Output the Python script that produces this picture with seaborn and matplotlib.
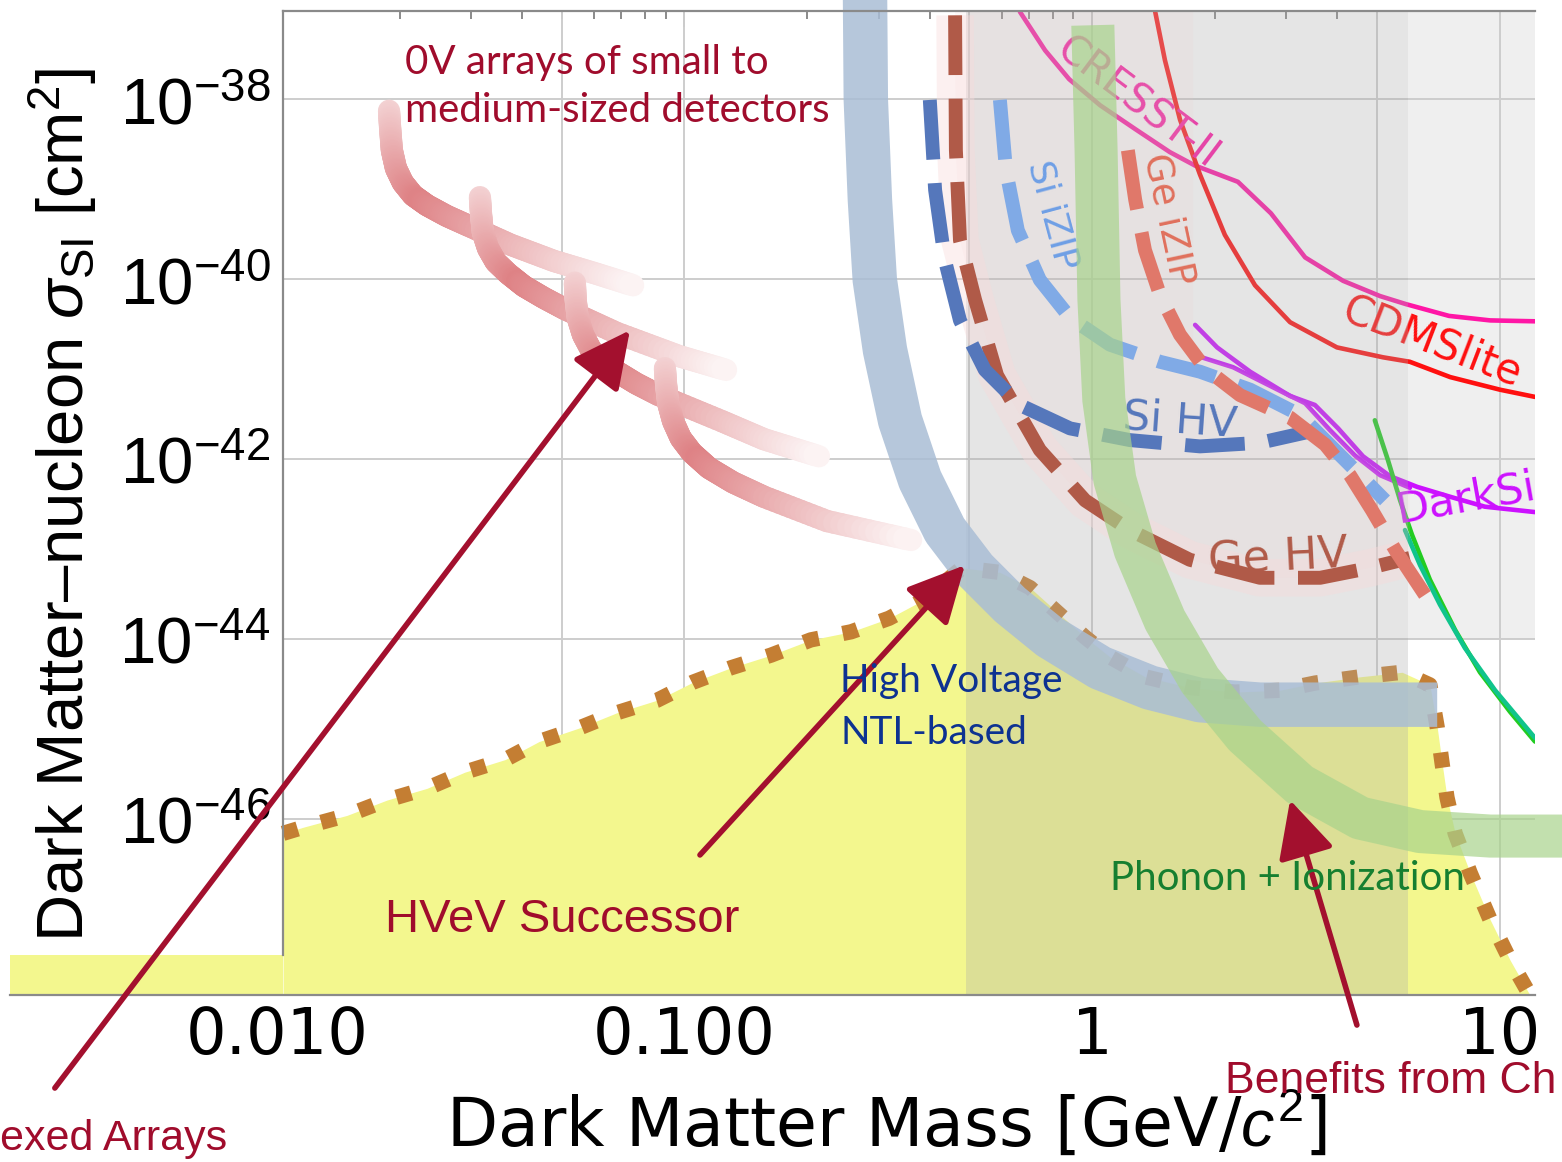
import numpy as np
import matplotlib
matplotlib.use("Agg")
import matplotlib.pyplot as plt
import seaborn as sns
from matplotlib.collections import LineCollection
from matplotlib.colors import to_rgb
from matplotlib.ticker import FixedLocator, LogLocator, NullFormatter, NullLocator

# values, stored as log10(mass / GeV) and log10(sigma / cm^2)

# HVeV successor reach (edge of the yellow region)
hvev_m = [-1.985, -1.934, -1.828, -1.730, -1.632, -1.539, -1.440, -1.357, -1.259, -1.166,
          -1.067, -0.979, -0.886, -0.788, -0.690, -0.591, -0.498, -0.415, -0.319, -0.226,
          -0.152, -0.086, -0.017, 0.044, 0.130, 0.240, 0.351, 0.461, 0.547, 0.658,
          0.761, 0.829, 0.847, 0.859, 0.871, 0.891, 0.928, 0.977, 1.026, 1.075]
hvev_s = [-46.16, -46.09, -45.96, -45.79, -45.66, -45.48, -45.34, -45.14, -44.99, -44.82,
          -44.68, -44.48, -44.32, -44.18, -44.01, -43.92, -43.77, -43.57, -43.21, -43.26,
          -43.43, -43.70, -43.98, -44.20, -44.42, -44.54, -44.59, -44.57, -44.49, -44.42,
          -44.37, -44.51, -44.98, -45.38, -45.76, -46.16, -46.60, -47.12, -47.57, -47.96]

# high voltage NTL-based band
ntl_m = [-0.557, -0.555, -0.545, -0.533, -0.508, -0.471, -0.422, -0.361, -0.287,
         -0.201, -0.103, 0.020, 0.142, 0.265, 0.412, 0.584, 0.847]
ntl_s = [-36.84, -38.01, -39.12, -40.01, -40.79, -41.57, -42.23, -42.79, -43.23,
         -43.62, -43.98, -44.32, -44.54, -44.68, -44.73, -44.73, -44.73]

# phonon + ionization band
phion_m = [0.002, 0.010, 0.017, 0.029, 0.056, 0.106, 0.179, 0.265, 0.375, 0.510,
           0.658, 0.805, 0.977, 1.161]
phion_s = [-37.18, -38.57, -40.23, -41.34, -42.23, -43.01, -43.79, -44.46, -45.07,
           -45.62, -45.99, -46.14, -46.19, -46.19]

# 0V arrays of small to medium-sized detectors
zerov_m = [[-1.725, -1.722, -1.718, -1.708, -1.691, -1.666, -1.632, -1.583, -1.529, -1.426,
            -1.320, -1.217, -1.126],
           [-1.502, -1.499, -1.495, -1.482, -1.463, -1.433, -1.394, -1.345, -1.291, -1.166,
            -1.011, -0.898],
           [-1.269, -1.267, -1.262, -1.249, -1.229, -1.202, -1.166, -1.119, -1.063, -0.908,
            -0.805, -0.670],
           [-1.048, -1.045, -1.040, -1.028, -1.009, -0.982, -0.940, -0.881, -0.805, -0.650,
            -0.444]]
zerov_s = [[-38.13, -38.34, -38.57, -38.77, -38.93, -39.07, -39.18, -39.30, -39.41, -39.62,
            -39.80, -39.94, -40.07],
           [-39.09, -39.29, -39.48, -39.66, -39.81, -39.94, -40.08, -40.21, -40.34, -40.60,
            -40.86, -41.01],
           [-40.04, -40.23, -40.43, -40.62, -40.79, -40.92, -41.03, -41.16, -41.29, -41.58,
            -41.78, -41.97],
           [-40.99, -41.18, -41.38, -41.58, -41.77, -41.93, -42.10, -42.26, -42.42, -42.69,
            -42.90]]

# SuperCDMS SNOLAB projections (dashed)
gehv_m = [-0.336, -0.334, -0.324, -0.287, -0.233, -0.128, -0.017, 0.093, 0.240, 0.412,
          0.560, 0.682, 0.780]
gehv_s = [-37.07, -38.57, -39.57, -40.23, -41.07, -41.90, -42.46, -42.79, -43.12, -43.32,
          -43.32, -43.21, -43.10]
sihv_m = [-0.398, -0.385, -0.361, -0.324, -0.263, -0.177, -0.054, 0.093, 0.265, 0.412, 0.530]
sihv_s = [-38.01, -39.01, -39.79, -40.46, -41.01, -41.40, -41.66, -41.79, -41.86, -41.82, -41.70]
siizip_m = [-0.226, -0.211, -0.182, -0.128, -0.054, 0.044, 0.167, 0.265, 0.388, 0.510,
            0.596, 0.658, 0.719]
siizip_s = [-38.01, -38.79, -39.46, -40.01, -40.43, -40.73, -40.92, -41.03, -41.23, -41.51,
            -41.90, -42.18, -42.46]
geizip_m = [0.088, 0.106, 0.130, 0.167, 0.216, 0.277, 0.363, 0.486, 0.572, 0.633, 0.687,
            0.744, 0.817]
geizip_s = [-38.57, -39.12, -39.68, -40.18, -40.62, -40.99, -41.29, -41.54, -41.84, -42.18,
            -42.57, -43.01, -43.51]

# existing limits (solid)
cresst_m = [-0.177, -0.115, -0.056, 0.020, 0.108, 0.191, 0.253, 0.358, 0.439, 0.523,
            0.616, 0.707, 0.771, 0.876, 0.977, 1.087]
cresst_s = [-37.03, -37.46, -37.78, -38.07, -38.34, -38.59, -38.74, -38.92, -39.27, -39.76,
            -40.02, -40.19, -40.28, -40.41, -40.46, -40.47]
cdmslite_m = [0.155, 0.179, 0.216, 0.265, 0.326, 0.400, 0.486, 0.601, 0.714, 0.780,
              0.879, 1.001, 1.087]
cdmslite_s = [-37.03, -37.57, -38.23, -38.84, -39.51, -40.07, -40.48, -40.76, -40.87,
              -40.92, -41.09, -41.23, -41.31]
darkside_m = [0.253, 0.307, 0.388, 0.486, 0.547, 0.604, 0.665, 0.731, 0.798, 0.879, 0.964, 1.087]
darkside_s = [-40.51, -40.76, -41.03, -41.30, -41.40, -41.66, -41.97, -42.19, -42.31,
              -42.42, -42.53, -42.59]
darkside2_m = [0.248, 0.346, 0.469, 0.523, 0.584, 0.645, 0.707, 0.780]
darkside2_s = [-40.84, -40.98, -41.26, -41.38, -41.68, -41.96, -42.18, -42.32]
green1_m = [0.694, 0.726, 0.756, 0.785, 0.829, 0.891, 0.952, 1.026, 1.087]
green1_s = [-41.57, -42.01, -42.46, -42.84, -43.34, -43.90, -44.37, -44.81, -45.14]
green2_m = [0.768, 0.805, 0.854, 0.915, 0.989, 1.087]
green2_s = [-42.79, -43.18, -43.62, -44.10, -44.57, -45.10]

# arrows (tail -> head)
arrow_tail_m = [-2.545, -0.962, 0.650]
arrow_tail_s = [-48.99, -46.40, -48.29]
arrow_head_m = [-1.134, -0.312, 0.486]
arrow_head_s = [-40.57, -43.18, -45.79]

# axis
xtick_vals = [0.01, 0.1, 1, 10]
xtick_labels = ["0.010", "0.100", "1", "10"]
ytick_vals = [1e-38, 1e-40, 1e-42, 1e-44, 1e-46]
ytick_labels = ["$10^{-38}$", "$10^{-40}$", "$10^{-42}$", "$10^{-44}$", "$10^{-46}$"]
grid_x = [0.05, 0.1, 0.5, 1, 5, 10]
shade_lo, shade_hi = 0.49, 5.96


def P(a):
    return 10.0 ** np.asarray(a)


sns.set_theme(style="white")
plt.rcParams["font.family"] = ["DejaVu Sans"]
plt.rcParams["mathtext.fontset"] = "custom"
plt.rcParams["mathtext.rm"] = "Liberation Sans"
plt.rcParams["mathtext.it"] = "Liberation Sans:italic"
plt.rcParams["mathtext.bf"] = "Liberation Sans:bold"

W, H = 1562, 1162
fig = plt.figure(figsize=(W / 100, H / 100), dpi=100, facecolor="white")
ax = fig.add_axes([10 / W, 1 - 995 / H, 1525 / W, 984 / H])
ax.set_facecolor("white")
ax.set_xscale("log")
ax.set_yscale("log")
xmin, xmax = 10 ** -2.655, 10 ** 1.087
ymin, ymax = 10 ** -47.956, 10 ** -37.022
ax.set_xlim(xmin, xmax)
ax.set_ylim(ymin, ymax)
frame_x = 10 ** -1.985
strip_top = 10 ** -47.51

# background regions and grid
ax.fill_between([shade_hi, xmax], 1e-44, ymax, color="#efefef", lw=0, zorder=0.3)
ax.vlines(grid_x, ymin, ymax, colors="#cdcdcd", lw=1.4, zorder=0.6)
ax.hlines(ytick_vals, frame_x, xmax, colors="#cdcdcd", lw=1.4, zorder=0.6)

yellow = "#f3f78e"
ax.fill_between(P(hvev_m), P(hvev_s), ymin, color=yellow, lw=0, zorder=1)
ax.fill_between([xmin, frame_x], ymin, strip_top, color=yellow, lw=0, zorder=1)
ax.plot(P(hvev_m), P(hvev_s), color="#c47e33", lw=11, linestyle=(0, (1, 1.6)),
        dash_capstyle="butt", zorder=1.8)

# existing limits, under the grey overlay
for lm, ls, c in [(cresst_m, cresst_s, "#ff16a6"), (cdmslite_m, cdmslite_s, "#ff1010"),
                  (darkside_m, darkside_s, "#cc11ff"), (darkside2_m, darkside2_s, "#cc11ff"),
                  (green1_m, green1_s, "#22cc22"), (green2_m, green2_s, "#10c48c")]:
    sns.lineplot(x=P(lm), y=P(ls), ax=ax, color=c, lw=3.3, sort=False, estimator=None,
                 zorder=1.5)

ax.text(10 ** 0.112, 10 ** -38.05, "CRESST-II", rotation=-37, color="#ff16a6", fontsize=29,
        ha="center", va="center", zorder=1.6)
ax.text(10 ** 0.834, 10 ** -40.70, "CDMSlite", rotation=-21, color="#ff1010", fontsize=30,
        ha="center", va="center", zorder=1.6)
ax.text(10 ** 0.739, 10 ** -42.70, "DarkSide", rotation=10, color="#cc11ff", fontsize=31,
        ha="left", va="baseline", zorder=1.6, clip_on=True)

ax.fill_between([shade_lo, shade_hi], ymin, ymax, color="#aaaaaa", alpha=0.3, lw=0, zorder=2)

# faint pink tint inside the Ge HV curve
tint_m = gehv_m + darkside2_m[::-1] + [darkside2_m[0], gehv_m[0]]
tint_s = gehv_s + darkside2_s[::-1] + [-37.022, -37.022]
ax.fill(P(tint_m), P(tint_s), color="#f0c4c4", alpha=0.1, lw=0, zorder=2.1)
ax.plot(P(gehv_m), P(gehv_s), color="#f8dada", alpha=0.4, lw=27, solid_capstyle="butt",
        zorder=2.2)

# projections (dashed)
for lm, ls, c in [(gehv_m, gehv_s, "#b05a48"), (sihv_m, sihv_s, "#5577bb"),
                  (siizip_m, siizip_s, "#80aae6"), (geizip_m, geizip_s, "#e0786a")]:
    ax.plot(P(lm), P(ls), color=c, lw=10, linestyle=(0, (4.3, 1.7)), dash_capstyle="butt",
            zorder=3)

ax.text(10 ** 0.216, 10 ** -41.57, "Si HV", rotation=-4, color="#5577bb", fontsize=31,
        ha="center", va="center", zorder=3.1)
ax.text(10 ** 0.456, 10 ** -43.10, "Ge HV", rotation=3, color="#b05a48", fontsize=32,
        ha="center", va="center", zorder=3.1)
ax.text(10 ** -0.096, 10 ** -39.29, "Si iZIP", rotation=-75, color="#6f9fe6", fontsize=26,
        ha="center", va="center", zorder=3.1)
ax.text(10 ** 0.187, 10 ** -39.34, "Ge iZIP", rotation=-78, color="#e0705c", fontsize=27,
        ha="center", va="center", zorder=3.1)

# 0V arrays: fading pink strokes; each straight piece is split finely only to shade it
pink = np.array(to_rgb("#d55f63"))
for lm, ls in zip(zerov_m, zerov_s):
    lm, ls = np.asarray(lm), np.asarray(ls)
    t = np.linspace(0, 1, 13)[:-1]
    fm = np.concatenate([lm[i] + t * (lm[i + 1] - lm[i]) for i in range(len(lm) - 1)] + [lm[-1:]])
    fs = np.concatenate([ls[i] + t * (ls[i + 1] - ls[i]) for i in range(len(ls) - 1)] + [ls[-1:]])
    pts = np.column_stack([P(fm), P(fs)])
    disp = ax.transData.transform(pts)
    arc = np.concatenate([[0], np.cumsum(np.hypot(*np.diff(disp, axis=0).T))])
    mid = 0.5 * (arc[:-1] + arc[1:]) / arc[-1]
    a = np.interp(mid, [0, 0.3, 1], [0.28, 0.78, 0.07])
    cols = 1 - a[:, None] * (1 - pink)
    segs = np.stack([pts[:-1], pts[1:]], axis=1)
    ax.add_collection(LineCollection(segs, colors=cols, linewidths=16, capstyle="round",
                                     zorder=3.5))

# HV NTL-based and phonon + ionization bands
ax.plot(P(ntl_m), P(ntl_s), color="#a9bdd5", alpha=0.85, lw=32, solid_capstyle="butt",
        solid_joinstyle="round", zorder=4, clip_on=False)
ax.plot(P(phion_m), P(phion_s), color="#a8d38c", alpha=0.7, lw=31, solid_capstyle="butt",
        solid_joinstyle="round", zorder=4.5, clip_on=False)

# arrows
for tm, ts, hm, hs in zip(arrow_tail_m, arrow_tail_s, arrow_head_m, arrow_head_s):
    ax.annotate("", xy=(10 ** hm, 10 ** hs), xytext=(10 ** tm, 10 ** ts), annotation_clip=False,
                arrowprops=dict(arrowstyle="-|>,head_length=1.1,head_width=0.55",
                                mutation_scale=32, lw=4, color="#a3102e",
                                shrinkA=0, shrinkB=0), zorder=7)

# frame and ticks
ax.spines["right"].set_visible(False)
ax.spines["left"].set_position(("data", frame_x))
ax.spines["left"].set_bounds(strip_top, ymax)
ax.spines["top"].set_bounds(frame_x, xmax)
for s in ["left", "top", "bottom"]:
    ax.spines[s].set_color("#8a8a8a")
    ax.spines[s].set_linewidth(1.6)
    ax.spines[s].set_zorder(5)

ax.set_xticks(xtick_vals, labels=xtick_labels)
ax.xaxis.set_minor_locator(LogLocator(base=10, subs=np.arange(2, 10), numticks=30))
ax.xaxis.set_minor_formatter(NullFormatter())
ax.tick_params(axis="x", which="major", direction="in", length=11.5, width=1.4,
               color="#8a8a8a", labelsize=46, labelcolor="black", pad=7, top=False)
ax.tick_params(axis="x", which="minor", direction="in", length=6, width=1.4,
               color="#8a8a8a", top=False)
ax.set_yticks(ytick_vals, labels=ytick_labels)
ax.yaxis.set_minor_locator(NullLocator())
ax.tick_params(axis="y", which="major", length=0, labelsize=47, labelcolor="black", pad=9)

top = ax.secondary_xaxis("top")
top.set_xticks([0.1, 1, 10])
top.xaxis.set_minor_locator(FixedLocator([k * 10.0 ** e for e in (-2, -1, 0) for k in range(2, 10)]))
top.tick_params(which="major", direction="in", length=11.5, width=1.4, color="#8a8a8a",
                labeltop=False)
top.tick_params(which="minor", direction="in", length=6, width=1.4, color="#8a8a8a")
top.spines["top"].set_visible(False)

ax.set_xlim(xmin, xmax)
ax.set_ylim(ymin, ymax)
ax.set_xlabel("")
ax.set_ylabel("")

# axis titles
fig.text(887 / W, 1 - 1125 / H, "Dark Matter Mass [GeV/$c^2$]", ha="center", va="center",
         fontsize=48, color="black")
fig.text(63 / W, 1 - 505 / H, "Dark Matter\u2013nucleon $\\sigma_{\\mathrm{SI}}$ [cm$^2$]",
         rotation=90, ha="center", va="center", fontsize=47, color="black",
         family="Liberation Sans")

# annotations
red = "#a00c2c"
fig.text(405 / W, 1 - 44 / H, "0V arrays of small to\nmedium-sized detectors", color=red,
         fontsize=29, family="Lato", ha="left", va="top", linespacing=1.36)
fig.text(840 / W, 1 - 663 / H, "High Voltage\nNTL-based", color="#0d3291", fontsize=28,
         family="Lato", ha="left", va="top", linespacing=1.55)
fig.text(1110 / W, 1 - 890 / H, "Phonon + Ionization", color="#167f30", fontsize=29,
         family="Lato", ha="left", va="baseline")
fig.text(385 / W, 1 - 932 / H, "HVeV Successor", color=red, fontsize=34,
         family="Liberation Sans", ha="left", va="baseline")
fig.text(1225 / W, 1 - 1093 / H, "Benefits from Ch", color=red, fontsize=32,
         family="Liberation Sans", ha="left", va="baseline")
fig.text(0, 1 - 1150 / H, "exed Arrays", color=red, fontsize=31,
         family="Liberation Sans", ha="left", va="baseline")

fig.savefig("out.png", dpi=100, facecolor="white")
